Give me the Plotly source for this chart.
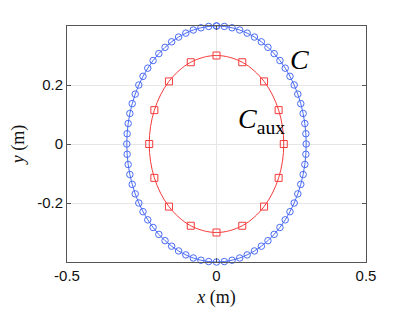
import numpy as np
import plotly.graph_objects as go

# Data
outer_semi_x = 0.3
outer_semi_y = 0.4
outer_npts = 72
aux_semi_x = 0.225
aux_semi_y = 0.3
aux_npts = 16
x_ticks = [-0.5, 0, 0.5]
x_ticklabels = ["-0.5", "0", "0.5"]
y_ticks = [-0.2, 0, 0.2]
y_ticklabels = ["-0.2", "0", "0.2"]

t_out = np.arange(outer_npts + 1) * 2 * np.pi / outer_npts
xo = outer_semi_x * np.sin(t_out)
yo = outer_semi_y * np.cos(t_out)
t_aux = np.arange(aux_npts + 1) * 2 * np.pi / aux_npts
xa = aux_semi_x * np.sin(t_aux)
ya = aux_semi_y * np.cos(t_aux)

blue = "#4a6cf5"
red = "#f53b3b"

fig = go.Figure()
fig.add_trace(go.Scatter(x=xo, y=yo, mode="lines+markers",
                         line=dict(color=blue, width=1, shape="spline", smoothing=1),
                         marker=dict(symbol="circle-open", size=6.5, color=blue, line=dict(width=1)),
                         cliponaxis=False, showlegend=False))
fig.add_trace(go.Scatter(x=xa, y=ya, mode="lines",
                         line=dict(color=red, width=1, shape="spline", smoothing=1.0),
                         cliponaxis=False, showlegend=False))
fig.add_trace(go.Scatter(x=xa[:-1], y=ya[:-1], mode="markers",
                         marker=dict(symbol="square-open", size=7, color=red, line=dict(width=1)),
                         cliponaxis=False, showlegend=False))

axis_common = dict(showline=True, mirror="allticks", linecolor="#555555", linewidth=1,
                   ticks="inside", ticklen=4, tickcolor="#555555", automargin=False,
                   showgrid=True, gridcolor="#e6e6e6", gridwidth=1, zeroline=False,
                   tickfont=dict(family="Liberation Sans", size=15, color="#111111"))

fig.update_xaxes(range=[-0.5, 0.5], tickvals=x_ticks, ticktext=x_ticklabels,
                 title=dict(text="<i>x</i> (m)", font=dict(family="Liberation Serif", size=18, color="#111111"), standoff=7),
                 **axis_common)
fig.update_yaxes(range=[-0.4, 0.4], tickvals=y_ticks, ticktext=y_ticklabels,
                 title=dict(text="<i>y</i> (m)", font=dict(family="Liberation Serif", size=18, color="#111111"), standoff=10),
                 **axis_common)

fig.add_annotation(x=0.276, y=0.285, text="<i>C</i>", showarrow=False,
                   font=dict(family="Liberation Serif", size=28, color="black"))
fig.add_annotation(x=0.15, y=0.08, text="<i>C</i><sub>aux</sub>", showarrow=False,
                   font=dict(family="Liberation Serif", size=28, color="black"))

fig.update_layout(width=404, height=316, margin=dict(l=59, r=46, t=18, b=62),
                  paper_bgcolor="white", plot_bgcolor="white")
fig.write_html("out.html")
